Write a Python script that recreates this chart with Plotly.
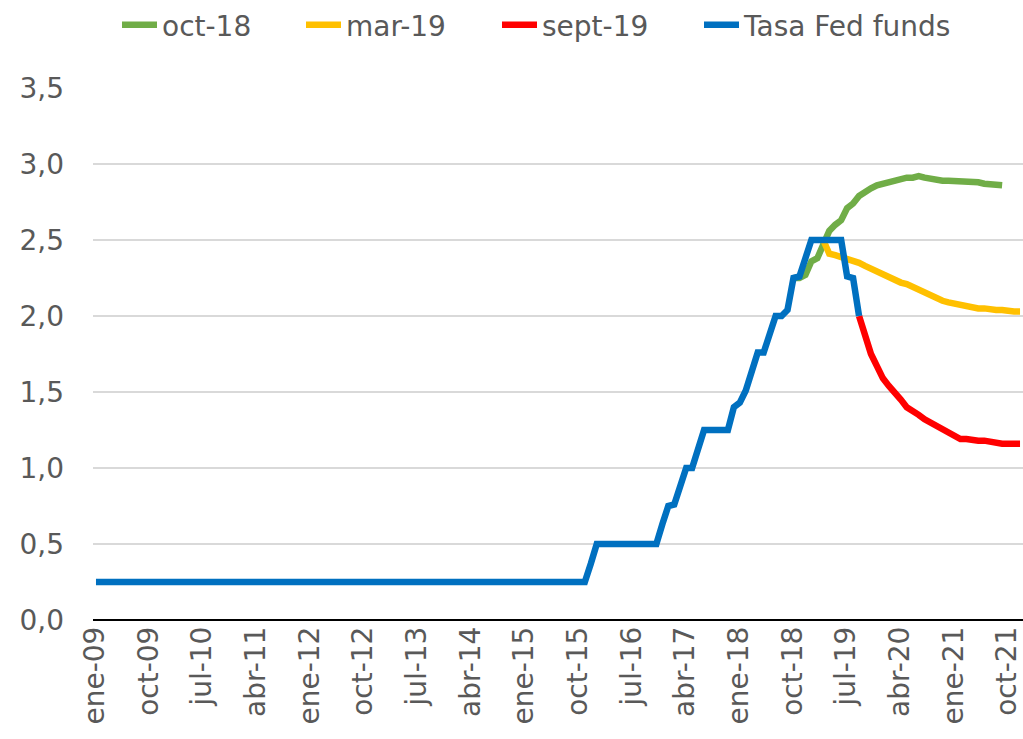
import plotly.graph_objects as go

# ---- categories (monthly, ene-09 .. dic-21) ----
month_abbr = ["ene", "feb", "mar", "abr", "may", "jun", "jul", "ago", "sept", "oct", "nov", "dic"]
years = ["09", "10", "11", "12", "13", "14", "15", "16", "17", "18", "19", "20", "21"]
months = [f"{m}-{y}" for y in years for m in month_abbr]

tick_labels = ["ene-09", "oct-09", "jul-10", "abr-11", "ene-12", "oct-12", "jul-13", "abr-14",
               "ene-15", "oct-15", "jul-16", "abr-17", "ene-18", "oct-18", "jul-19", "abr-20",
               "ene-21", "oct-21"]

# ---- Tasa Fed funds (ene-09 .. sept-19) ----
fed_funds = [
    0.25, 0.25, 0.25, 0.25, 0.25, 0.25, 0.25, 0.25, 0.25, 0.25, 0.25, 0.25,  # 2009
    0.25, 0.25, 0.25, 0.25, 0.25, 0.25, 0.25, 0.25, 0.25, 0.25, 0.25, 0.25,  # 2010
    0.25, 0.25, 0.25, 0.25, 0.25, 0.25, 0.25, 0.25, 0.25, 0.25, 0.25, 0.25,  # 2011
    0.25, 0.25, 0.25, 0.25, 0.25, 0.25, 0.25, 0.25, 0.25, 0.25, 0.25, 0.25,  # 2012
    0.25, 0.25, 0.25, 0.25, 0.25, 0.25, 0.25, 0.25, 0.25, 0.25, 0.25, 0.25,  # 2013
    0.25, 0.25, 0.25, 0.25, 0.25, 0.25, 0.25, 0.25, 0.25, 0.25, 0.25, 0.25,  # 2014
    0.25, 0.25, 0.25, 0.25, 0.25, 0.25, 0.25, 0.25, 0.25, 0.25, 0.25, 0.37,  # 2015
    0.50, 0.50, 0.50, 0.50, 0.50, 0.50, 0.50, 0.50, 0.50, 0.50, 0.50, 0.63,  # 2016
    0.75, 0.76, 0.88, 1.00, 1.00, 1.13, 1.25, 1.25, 1.25, 1.25, 1.25, 1.40,  # 2017
    1.43, 1.51, 1.62, 1.76, 1.76, 1.88, 2.00, 2.00, 2.04, 2.25, 2.26, 2.38,  # 2018
    2.50, 2.50, 2.50, 2.50, 2.50, 2.50, 2.26, 2.25, 2.00,                    # 2019
]

# ---- market-implied paths ----
oct18_start = "oct-18"
oct18 = [2.25, 2.25, 2.27, 2.36, 2.38, 2.46, 2.56, 2.60, 2.63, 2.71, 2.74, 2.79,
         2.82, 2.84, 2.86, 2.87, 2.88, 2.89, 2.91, 2.91, 2.91, 2.92, 2.91, 2.90,
         2.90, 2.89, 2.89, 2.89, 2.89, 2.88, 2.88, 2.88, 2.87, 2.87, 2.87, 2.86]

mar19_start = "mar-19"
mar19 = [2.50, 2.41, 2.40, 2.39, 2.38, 2.37, 2.35, 2.33, 2.31, 2.30, 2.28, 2.25,
         2.24, 2.22, 2.21, 2.19, 2.17, 2.15, 2.13, 2.11, 2.10, 2.09, 2.08, 2.07,
         2.07, 2.06, 2.05, 2.05, 2.04, 2.04, 2.04, 2.03, 2.03, 2.03]

sep19_start = "sept-19"
sep19 = [2.00, 1.87, 1.75, 1.67, 1.59, 1.54, 1.50, 1.45, 1.40, 1.38, 1.35, 1.32,
         1.30, 1.28, 1.26, 1.23, 1.21, 1.19, 1.19, 1.18, 1.18, 1.18, 1.17, 1.16,
         1.16, 1.16, 1.16, 1.16]


def x_from(start, values):
    i0 = months.index(start)
    return months[i0:i0 + len(values)]


FONT = "DejaVu Sans"
GREY = "#595959"
LW = 6.5
W, H = 1023, 739

fig = go.Figure()
fig.add_trace(go.Scatter(x=x_from(oct18_start, oct18), y=oct18, name="oct-18", mode="lines",
                         line=dict(color="#70AD47", width=LW), legend="legend", showlegend=True))
fig.add_trace(go.Scatter(x=x_from(mar19_start, mar19), y=mar19, name="mar-19", mode="lines",
                         line=dict(color="#FFC000", width=LW), legend="legend2", showlegend=True))
fig.add_trace(go.Scatter(x=x_from(sep19_start, sep19), y=sep19, name="sept-19", mode="lines",
                         line=dict(color="#FF0000", width=LW), legend="legend3", showlegend=True))
fig.add_trace(go.Scatter(x=months[:len(fed_funds)], y=fed_funds, name="Tasa Fed funds", mode="lines",
                         line=dict(color="#0070C0", width=LW), legend="legend4", showlegend=True))


def legend_at(px_left):
    return dict(
        orientation="h", xref="container", yref="container",
        x=px_left / W, y=1 - 25 / H, xanchor="left", yanchor="middle",
        font=dict(family=FONT, size=28, color=GREY),
        itemwidth=35, bgcolor="rgba(0,0,0,0)", visible=True,
    )


fig.update_layout(
    width=W, height=H, showlegend=True,
    margin=dict(l=93, r=0, t=88, b=119, autoexpand=False),
    paper_bgcolor="white", plot_bgcolor="white",
    font=dict(family=FONT, color=GREY, size=27),
    legend=legend_at(117),
    legend2=legend_at(301),
    legend3=legend_at(497),
    legend4=legend_at(699),
    xaxis=dict(
        type="category", categoryorder="array", categoryarray=months,
        range=[-0.5, len(months) - 0.5], automargin=False,
        tickmode="array", tickvals=tick_labels, ticktext=tick_labels,
        tickangle=-90, tickfont=dict(family=FONT, size=28, color=GREY),
        showgrid=False, showline=False, ticks="", ticklabelstandoff=0,
        ticklabelshift=-1,
    ),
    yaxis=dict(
        range=[0, 3.5], tickmode="array", automargin=False,
        tickvals=[0, 0.5, 1.0, 1.5, 2.0, 2.5, 3.0, 3.5],
        ticktext=["0,0", "0,5", "1,0", "1,5", "2,0", "2,5", "3,0", "3,5"],
        tickfont=dict(family=FONT, size=28, color=GREY),
        showgrid=True, gridcolor="#D9D9D9", gridwidth=1.5,
        zeroline=True, zerolinecolor="#000000", zerolinewidth=1.5,
        showline=False, ticks="", ticklabelstandoff=28,
    ),
)

fig.write_html("out.html", config={"displayModeBar": False},
               post_script="document.body.style.margin='0px';")
